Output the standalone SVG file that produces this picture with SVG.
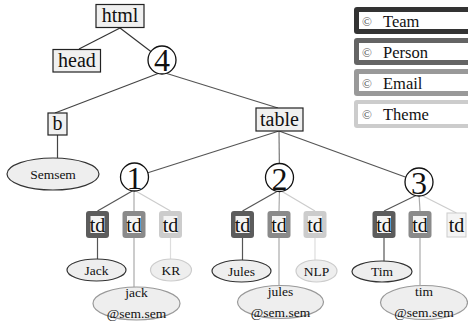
<svg xmlns="http://www.w3.org/2000/svg" width="468" height="322" viewBox="0 0 468 322" font-family="'Liberation Serif', 'Times New Roman', serif">
<style>
text{font-family:'Liberation Serif','Times New Roman',serif;fill:#111;text-anchor:middle}
.box{fill:#f0f0f0;stroke:#222;stroke-width:1.2}
.lbl{font-size:20px}
.num{font-size:32px}
.circ{fill:#fff;stroke:#111;stroke-width:1.3}
.leaf{font-size:13.5px}
.e{stroke-width:1.2;fill:none}
.tdin{fill:#f4f4f4}
.ell{fill:#eee;stroke-width:1.2}
.lg{font-size:16.5px;text-anchor:start}
.cp{font-size:13px;fill:#555;text-anchor:start}
</style>
<g id="connectors">
<line class="e" stroke="#333" x1="120" y1="28" x2="79" y2="49"/>
<line class="e" stroke="#333" x1="120" y1="28" x2="162" y2="60"/>
<line class="e" stroke="#444" x1="162" y1="72" x2="55" y2="113"/>
<line class="e" stroke="#555" x1="162" y1="72" x2="278" y2="108"/>
<line class="e" stroke="#444" x1="57.5" y1="135" x2="57.5" y2="158"/>
<line class="e" stroke="#555" x1="279" y1="131" x2="134.5" y2="177"/>
<line class="e" stroke="#777" x1="279" y1="131" x2="279.5" y2="177.5"/>
<line class="e" stroke="#555" x1="279" y1="131" x2="419" y2="182"/>
<line class="e" stroke="#555" x1="134" y1="190" x2="97.5" y2="211"/>
<line class="e" stroke="#aaa" x1="134" y1="190" x2="134" y2="211"/>
<line class="e" stroke="#ccc" x1="134" y1="190" x2="170.5" y2="211"/>
<line class="e" stroke="#555" x1="97.5" y1="238" x2="97.5" y2="259"/>
<line class="e" stroke="#aaa" x1="134" y1="238" x2="134" y2="287"/>
<line class="e" stroke="#ddd" x1="170.5" y1="238" x2="170.5" y2="259"/>
<line class="e" stroke="#555" x1="279.5" y1="190" x2="242.5" y2="211"/>
<line class="e" stroke="#aaa" x1="279.5" y1="190" x2="279" y2="211"/>
<line class="e" stroke="#ccc" x1="279.5" y1="190" x2="315" y2="211"/>
<line class="e" stroke="#555" x1="242.5" y1="238" x2="242.5" y2="260"/>
<line class="e" stroke="#aaa" x1="279" y1="238" x2="279" y2="285"/>
<line class="e" stroke="#ddd" x1="315" y1="238" x2="315" y2="260"/>
<line class="e" stroke="#555" x1="419" y1="194" x2="384" y2="211"/>
<line class="e" stroke="#aaa" x1="419" y1="194" x2="420" y2="211"/>
<line class="e" stroke="#ccc" x1="419" y1="194" x2="456.5" y2="213"/>
<line class="e" stroke="#555" x1="384" y1="238" x2="384" y2="261"/>
<line class="e" stroke="#aaa" x1="420" y1="238" x2="420" y2="285"/>
</g>
<g id="legend">
<g id="legend-team"><rect x="354" y="7" width="120" height="27" rx="3" fill="#333"/><rect x="359" y="12" width="120" height="17" fill="#fff"/><text class="cp" x="362" y="26">©</text><text class="lg" x="383" y="27">Team</text></g>
<g id="legend-person"><rect x="354" y="38" width="120" height="27" rx="3" fill="#646464"/><rect x="359" y="43" width="120" height="17" fill="#fff"/><text class="cp" x="362" y="57">©</text><text class="lg" x="383" y="58">Person</text></g>
<g id="legend-email"><rect x="354" y="69" width="120" height="27" rx="3" fill="#999"/><rect x="359" y="74" width="120" height="17" fill="#fff"/><text class="cp" x="362" y="88">©</text><text class="lg" x="383" y="89">Email</text></g>
<g id="legend-theme"><rect x="354" y="100" width="120" height="28" rx="3" fill="#ccc"/><rect x="358" y="104" width="120" height="20" fill="#fff"/><text class="cp" x="362" y="119">©</text><text class="lg" x="383" y="120">Theme</text></g>
</g>
<g id="html"><rect class="box" x="96" y="4.5" width="48" height="23"/><text class="lbl" x="120" y="22">html</text></g>
<g id="head"><rect class="box" x="53" y="49.5" width="47.5" height="22.5"/><text class="lbl" x="77" y="67">head</text></g>
<g id="n4"><circle class="circ" cx="162" cy="60" r="14"/><text class="num" x="162" y="71">4</text></g>
<g id="b"><rect class="box" x="48" y="113" width="19" height="22"/><text class="lbl" x="57.5" y="130">b</text></g>
<g id="semsem"><ellipse class="ell" stroke="#333" cx="53" cy="174" rx="46" ry="16"/><text class="leaf" x="53" y="178.5">Semsem</text></g>
<g id="table"><rect class="box" x="256" y="108" width="47" height="23"/><text class="lbl" x="279.5" y="126">table</text></g>
<g id="n1"><circle class="circ" cx="134.5" cy="177" r="14"/><text class="num" x="134.5" y="189">1</text></g>
<g id="n2"><circle class="circ" cx="279.5" cy="177.5" r="14"/><text class="num" x="279.5" y="189.5">2</text></g>
<g id="n3"><circle class="circ" cx="419" cy="182" r="14"/><text class="num" x="419" y="194">3</text></g>
<g id="td1a"><rect x="86" y="211" width="23" height="27" rx="3" fill="#5c5c5c"/><rect class="tdin" x="90.5" y="216" width="14" height="17"/><text class="lbl" x="97.5" y="232">td</text></g>
<g id="td1b"><rect x="122.5" y="211" width="23" height="27" rx="3" fill="#8a8a8a"/><rect class="tdin" x="127" y="216" width="14" height="17"/><text class="lbl" x="134" y="232">td</text></g>
<g id="td1c"><rect x="159" y="211" width="23" height="27" rx="3" fill="#ccc"/><rect class="tdin" x="163.5" y="216" width="14" height="17"/><text class="lbl" x="170.5" y="232">td</text></g>
<g id="td2a"><rect x="231" y="211" width="23" height="27" rx="3" fill="#5c5c5c"/><rect class="tdin" x="235.5" y="216" width="14" height="17"/><text class="lbl" x="242.5" y="232">td</text></g>
<g id="td2b"><rect x="267.5" y="211" width="23" height="27" rx="3" fill="#8a8a8a"/><rect class="tdin" x="272" y="216" width="14" height="17"/><text class="lbl" x="279" y="232">td</text></g>
<g id="td2c"><rect x="303.5" y="211" width="23" height="27" rx="3" fill="#ccc"/><rect class="tdin" x="308" y="216" width="14" height="17"/><text class="lbl" x="315" y="232">td</text></g>
<g id="td3a"><rect x="372.5" y="211" width="23" height="27" rx="3" fill="#5c5c5c"/><rect class="tdin" x="377" y="216" width="14" height="17"/><text class="lbl" x="384" y="232">td</text></g>
<g id="td3b"><rect x="408.5" y="211" width="23" height="27" rx="3" fill="#8a8a8a"/><rect class="tdin" x="413" y="216" width="14" height="17"/><text class="lbl" x="420" y="232">td</text></g>
<g id="td3c"><rect x="447" y="213" width="19" height="24" fill="#f4f4f4" stroke="#ccc" stroke-width="1"/><text class="lbl" x="456.5" y="232">td</text></g>
<g id="jack"><ellipse class="ell" stroke="#333" cx="96.5" cy="270" rx="29.5" ry="11"/><text class="leaf" x="96.5" y="274.5">Jack</text></g>
<g id="kr"><ellipse class="ell" stroke="#ccc" cx="171" cy="270" rx="20.5" ry="11"/><text class="leaf" x="171" y="274.5">KR</text></g>
<g id="jackmail"><ellipse class="ell" stroke="#999" cx="136.5" cy="303.5" rx="43.5" ry="16.5"/><text class="leaf" x="136.5" y="297">jack</text><text class="leaf" x="136.5" y="318">@sem.sem</text></g>
<g id="jules"><ellipse class="ell" stroke="#333" cx="241.5" cy="271" rx="29.5" ry="11"/><text class="leaf" x="241.5" y="275.5">Jules</text></g>
<g id="nlp"><ellipse class="ell" stroke="#ccc" cx="316.5" cy="271" rx="20.5" ry="11"/><text class="leaf" x="316.5" y="275.5">NLP</text></g>
<g id="julesmail"><ellipse class="ell" stroke="#999" cx="280.5" cy="302" rx="43" ry="16.5"/><text class="leaf" x="280.5" y="296">jules</text><text class="leaf" x="280.5" y="317">@sem.sem</text></g>
<g id="tim"><ellipse class="ell" stroke="#333" cx="382" cy="271.5" rx="30" ry="10.5"/><text class="leaf" x="382" y="276">Tim</text></g>
<g id="timmail"><ellipse class="ell" stroke="#999" cx="424" cy="302.5" rx="43.5" ry="17"/><text class="leaf" x="424" y="296">tim</text><text class="leaf" x="424" y="317">@sem.sem</text></g>
</svg>
